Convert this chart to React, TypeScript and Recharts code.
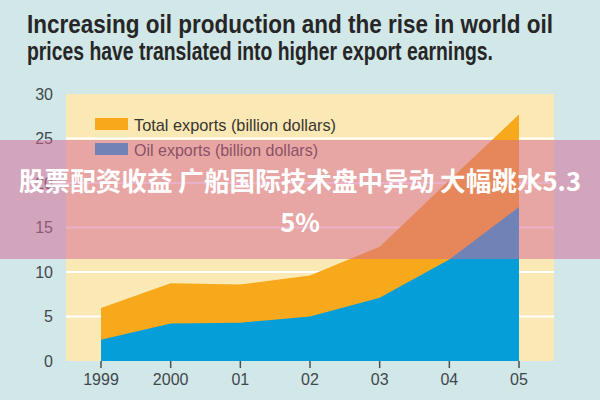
import React from 'react';
import { AreaChart, Area, XAxis, YAxis, CartesianGrid, Legend } from 'recharts';

const years = ['1999', '2000', '01', '02', '03', '04', '05'];
const totalExports = [5.95, 8.75, 8.6, 9.6, 12.85, 20.3, 27.7];
const oilExports = [2.4, 4.2, 4.3, 5.0, 7.1, 11.4, 17.3];
const yTicks = [0, 5, 10, 15, 20, 25, 30];
const gridValues = [5, 10, 15, 20, 25];

const titleLines = [
  'Increasing oil production and the rise in world oil',
  'prices have translated into higher export earnings.',
];
const bannerLines = ['股票配资收益 广船国际技术盘中异动 大幅跳水5.3', '5%'];

const data = years.map((year, i) => ({
  year,
  total: totalExports[i],
  oil: oilExports[i],
}));

const BG = '#d2e7e8';
const CREAM = '#fbe9b5';
const ORANGE = '#f7a81b';
const BLUE = '#069ed9';

const legendOrder = ['total', 'oil'];
const legendWidths: Record<string, number> = { total: 202, oil: 184 };

type LegendItem = { value?: string; color?: string; dataKey?: string };

const LegendContent = ({ payload }: { payload?: LegendItem[] }) => {
  const items = [...(payload || [])].sort(
    (a, b) => legendOrder.indexOf(String(a.dataKey)) - legendOrder.indexOf(String(b.dataKey))
  );
  return (
    <svg width={260} height={46} style={{ display: 'block' }}>
      {items.map((item, i) => (
        <g key={i} transform={`translate(0, ${i * 25})`}>
          <rect x={0} y={2} width={33} height={12} fill={item.color} />
          <text
            x={39}
            y={15}
            fontFamily="Liberation Sans, Arial, sans-serif"
            fontSize={17}
            fill="#3a3530"
            textLength={legendWidths[String(item.dataKey)]}
            lengthAdjust="spacingAndGlyphs"
          >
            {item.value}
          </text>
        </g>
      ))}
    </svg>
  );
};

export default function App() {
  return (
    <div style={{ position: 'fixed', left: 0, top: 0, width: 600, height: 400, background: BG, overflow: 'hidden' }}>
      <svg width={600} height={72} style={{ position: 'absolute', left: 0, top: 0 }}>
        <text x={27} y={33} fontFamily="Liberation Sans, Arial, sans-serif" fontWeight="bold" fontSize={25}
          fill="#262626" textLength={526} lengthAdjust="spacingAndGlyphs">{titleLines[0]}</text>
        <text x={27} y={60} fontFamily="Liberation Sans, Arial, sans-serif" fontWeight="bold" fontSize={25}
          fill="#262626" textLength={466} lengthAdjust="spacingAndGlyphs">{titleLines[1]}</text>
      </svg>

      <div style={{ position: 'absolute', left: 0, top: 0 }}>
        <AreaChart width={600} height={400} data={data} margin={{ top: 94, right: 46, bottom: 9, left: 0 }}>
          <CartesianGrid fill={CREAM} vertical={false} horizontalValues={gridValues} stroke="#ffffff" strokeWidth={2} />
          <XAxis
            dataKey="year"
            axisLine={false}
            tickSize={7}
            tickMargin={6}
            height={30}
            padding={{ left: 35, right: 35 }}
            tickLine={{ stroke: '#4a4f52', strokeWidth: 1.5 }}
            tick={{ fill: '#3f474c', fontSize: 16, fontFamily: 'Liberation Sans, Arial, sans-serif' }}
            interval={0}
          />
          <YAxis
            domain={[0, 30]}
            ticks={yTicks}
            width={66}
            axisLine={false}
            tickLine={false}
            tickSize={0}
            tickMargin={13}
            tick={{ fill: '#3f474c', fontSize: 16, fontFamily: 'Liberation Sans, Arial, sans-serif' }}
          />
          <Legend
            layout="vertical"
            verticalAlign="middle"
            align="center"
            wrapperStyle={{ left: 95, top: 116, width: 260, height: 46 }}
            content={<LegendContent />}
          />
          <Area
            type="linear"
            dataKey="total"
            name="Total exports (billion dollars)"
            stroke="none"
            fill={ORANGE}
            fillOpacity={1}
            dot={false}
            activeDot={false}
            isAnimationActive={false}
          />
          <Area
            type="linear"
            dataKey="oil"
            name="Oil exports (billion dollars)"
            stroke="none"
            fill={BLUE}
            fillOpacity={1}
            dot={false}
            activeDot={false}
            isAnimationActive={false}
          />
        </AreaChart>
      </div>

      <div
        style={{
          position: 'absolute',
          left: 0,
          top: 140,
          width: 600,
          height: 119,
          background: 'rgba(213, 106, 150, 0.52)',
          color: '#ffffff',
          fontFamily: '"Noto Sans CJK SC", sans-serif',
          fontWeight: 700,
          fontSize: 25.6,
          lineHeight: '41px',
          textAlign: 'center',
          paddingTop: 19,
          boxSizing: 'border-box',
          whiteSpace: 'nowrap',
        }}
      >
        <div>{bannerLines[0]}</div>
        <div>{bannerLines[1]}</div>
      </div>
    </div>
  );
}
